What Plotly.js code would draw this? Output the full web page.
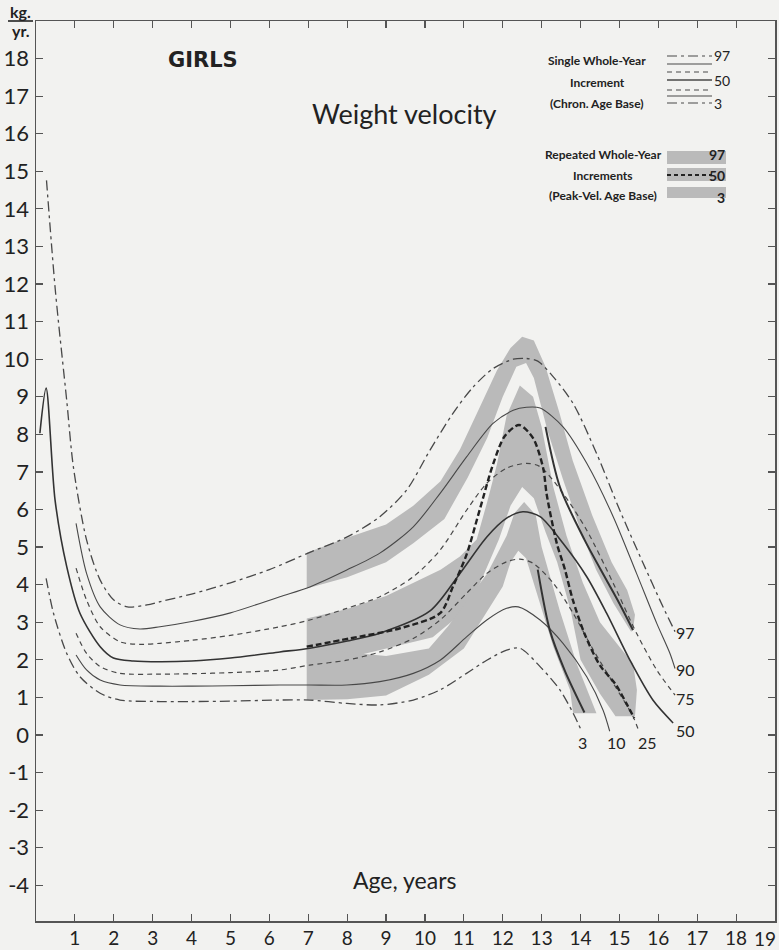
<!DOCTYPE html>
<html>
<head>
<meta charset="utf-8">
<script src="https://cdn.plot.ly/plotly-3.0.1.min.js"></script>
<style>html,body{margin:0;padding:0;background:#f2f2f0;}#chart{width:779px;height:950px;}</style>
</head>
<body>
<div id="chart"></div>
<script>
// ---- Chronological-age-base percentile curves (single whole-year increments) ----
const c97_x = [0.27,0.5,0.79,0.96,1.3,1.65,2.0,2.35,2.85,3.2,4,5,6,7.04,8.0,8.84,9.53,10.13,10.72,11.24,11.75,12.27,12.6,12.9,13.3,13.81,14.41,15.01,15.61,16.12,16.43];
const c97_y = [14.76,11.8,8.9,7.14,5.19,4.12,3.59,3.41,3.46,3.55,3.75,4.05,4.4,4.86,5.27,5.81,6.52,7.58,8.56,9.26,9.75,10.0,10.02,9.95,9.53,8.82,7.5,5.98,4.57,3.41,2.75];
const c90_x = [1.03,1.3,1.65,2.16,2.67,3.19,4,5,6.27,7.04,7.99,8.84,9.7,10.39,11.07,11.75,12.27,12.61,12.96,13.55,14.16,14.84,15.44,15.96,16.3,16.43];
const c90_y = [5.63,4.3,3.41,2.93,2.82,2.88,3.02,3.25,3.68,3.94,4.39,4.84,5.54,6.43,7.4,8.29,8.64,8.72,8.7,8.2,7.23,5.81,4.3,2.97,2.17,1.77];
const c75_x = [1.03,1.3,1.65,2.16,2.67,3.19,4,5,6.27,7.04,7.99,8.84,9.7,10.39,11.07,11.59,12.1,12.61,12.96,13.55,14.16,14.84,15.44,15.96,16.43];
const c75_y = [4.44,3.59,2.88,2.48,2.41,2.44,2.52,2.65,2.88,3.06,3.37,3.68,4.21,4.92,5.98,6.7,7.1,7.23,7.14,6.43,5.45,4.04,2.71,1.73,1.06];
const c50_x = [0.1,0.26,0.49,0.79,1.13,1.65,1.99,2.5,3.19,4,5,6.27,7.04,8.0,8.84,10.13,10.9,11.59,12.1,12.52,12.96,13.55,14.16,14.67,15.27,15.86,16.38];
const c50_y = [8.03,9.23,6.25,4.48,3.24,2.35,2.05,1.97,1.95,1.97,2.05,2.21,2.31,2.5,2.71,3.3,4.3,5.27,5.77,5.94,5.81,5.1,4.21,3.24,1.99,0.93,0.32];
const c25_x = [1.03,1.3,1.65,2.16,3.19,4,5,6.27,7.04,7.99,8.84,9.7,10.39,11.07,11.59,12.1,12.44,12.78,13.3,13.81,14.33,14.84,15.35,15.5];
const c25_y = [2.71,2.17,1.82,1.64,1.62,1.63,1.66,1.73,1.86,1.99,2.21,2.57,3.06,3.77,4.3,4.61,4.68,4.57,4.04,3.24,2.26,1.38,0.49,0.1];
const c10_x = [1.03,1.3,1.65,2.16,3.19,4,5,6.27,7.04,7.99,8.84,9.7,10.39,11.07,11.59,12.1,12.4,12.96,13.55,14.16,14.58,14.75];
const c10_y = [2.13,1.73,1.46,1.33,1.30,1.30,1.31,1.33,1.33,1.33,1.42,1.64,1.99,2.61,3.06,3.37,3.41,3.06,2.44,1.55,0.66,0.1];
const c3_x = [0.26,0.45,0.79,1.13,1.65,2.16,3.19,4,5,6.27,7.04,7.99,8.84,9.7,10.39,11.07,11.59,12.1,12.44,12.96,13.47,13.81,14.03];
const c3_y = [4.17,3.24,2.17,1.55,1.11,0.93,0.89,0.89,0.9,0.93,0.93,0.84,0.8,0.93,1.2,1.64,1.99,2.26,2.31,1.82,1.2,0.58,0.1];

// ---- Peak-velocity-age-base bands (repeated whole-year increments), outlines ----
const bandA_x = [6.96,8.0,9.0,9.7,10.4,10.9,11.4,11.85,12.2,12.5,12.8,13.1,13.45,13.8,14.3,14.8,15.2,15.4,15.35,15.3,14.85,14.4,14.0,13.55,13.15,12.8,12.6,12.35,12.0,11.6,11.1,10.5,9.7,9.0,8.0,6.96];
const bandA_y = [4.85,5.25,5.6,6.1,6.75,7.6,8.7,9.7,10.3,10.6,10.5,9.8,8.6,7.3,5.85,4.6,3.85,3.2,2.8,2.75,3.5,4.4,5.45,6.8,8.1,9.5,9.9,9.8,9.0,7.9,6.85,5.75,5.1,4.6,4.2,3.9];
const bandB_x = [6.96,8.0,9.0,9.8,10.4,10.9,11.33,11.6,11.85,12.1,12.44,12.78,13.0,13.3,13.64,14.06,14.5,15.0,15.35,15.45,15.4,14.9,14.5,14.0,13.75,13.4,13.1,12.8,12.5,12.2,11.9,11.4,10.9,10.2,9.0,8.0,6.96];
const bandB_y = [3.1,3.35,3.7,4.1,4.4,4.75,5.2,6.2,7.2,8.5,9.3,9.0,8.2,6.6,5.3,4.05,3.0,2.35,1.9,1.2,0.5,0.5,1.1,2.0,3.3,4.6,5.4,6.3,6.6,6.1,5.2,4.0,3.2,2.6,2.3,2.05,1.9];
const bandC_x = [6.96,8.0,9.0,10.1,10.6,11.0,11.6,12.1,12.3,12.55,12.85,13.0,13.47,13.9,14.41,13.81,13.73,13.3,12.9,12.6,12.4,12.2,12.0,11.67,11.0,10.1,9.0,8.0,6.96];
const bandC_y = [2.3,2.2,2.1,2.3,2.9,3.45,4.3,5.3,5.9,6.2,5.85,5.0,3.3,1.9,0.58,0.58,1.2,2.35,3.7,4.7,4.9,4.6,3.95,3.4,2.3,1.6,1.05,0.95,0.93];
// bold centre lines drawn inside the bands
const pv50_x = [6.96,8.07,9.36,10.39,10.72,11.07,11.41,11.75,12.05,12.42,12.78,13.04,13.13,13.39,13.6,13.8,14.1,14.5,14.9,15.2,15.38];
const pv50_y = [2.35,2.57,2.84,3.24,3.95,4.8,6.0,7.2,7.95,8.25,7.9,7.1,6.4,5.1,4.4,3.6,2.7,1.85,1.35,0.8,0.45];
const pv97_x = [13.1,13.47,14.1,14.67,15.0,15.35];
const pv97_y = [8.2,6.6,5.2,4.12,3.5,2.79];
const pv3_x = [12.9,13.21,13.6,14.1];
const pv3_y = [4.4,2.79,1.7,0.6];

// ---- axis ticks ----
const xTickVals = [1,2,3,4,5,6,7,8,9,10,11,12,13,14,15,16,17,18,19];
const xTickText = ['1','2','3','4','5','6','7','8','9','10','11','12','13','14','15','16','17','18',''];
const xLastLabel = '19';
const yTickVals = [-4,-3,-2,-1,0,1,2,3,4,5,6,7,8,9,10,11,12,13,14,15,16,17,18];
const yTickText = ['-4','-3','-2','-1','0','1','2','3','4','5','6','7','8','9','10','11','12','13','14','15','16','17','18'];

// ---- end labels ----
const endLabels = ['97','90','75','50','3','10','25'];
const endLabelX = [16.71,16.71,16.71,16.71,14.04,14.93,15.73];
const endLabelY = [2.74,1.73,0.98,0.11,-0.19,-0.19,-0.19];

const LINE = '#484848';
const BAND = '#bababa';
const DASHDOT = '10px,4px,3px,4px';
const DASH = '5px,4px';

function band(x, y, xa, ya){
  return {x:x, y:y, xaxis:xa||'x', yaxis:ya||'y', type:'scatter', mode:'lines', fill:'toself', fillcolor:BAND,
          line:{width:0, color:BAND}, hoverinfo:'skip', showlegend:false};
}
function curve(x, y, width, dash, color){
  return {x:x, y:y, type:'scatter', mode:'lines',
          line:{width:width, dash:dash, color:color||LINE, shape:'spline', smoothing:0.8},
          hoverinfo:'skip', showlegend:false};
}

// legend swatches drawn on an overlay axis measured in page pixels
const swatchX = [667,726,726,667,667];
const data = [
  band(bandA_x, bandA_y), band(bandB_x, bandB_y), band(bandC_x, bandC_y),
  band(swatchX, [151,151,164,164,151], 'x2', 'y2'),
  band(swatchX, [168,168,181,181,168], 'x2', 'y2'),
  band(swatchX, [187,187,198,198,187], 'x2', 'y2'),
  curve(c97_x, c97_y, 1.3, DASHDOT),
  curve(c90_x, c90_y, 1.1, 'solid'),
  curve(c75_x, c75_y, 1.2, DASH),
  curve(c50_x, c50_y, 1.6, 'solid', '#333'),
  curve(c25_x, c25_y, 1.2, DASH),
  curve(c10_x, c10_y, 1.1, 'solid'),
  curve(c3_x, c3_y, 1.3, DASHDOT),
  curve(pv50_x, pv50_y, 2.4, '6px,3px', '#222'),
  curve(pv97_x, pv97_y, 2.0, 'solid', '#333'),
  curve(pv3_x, pv3_y, 2.0, 'solid', '#333')
];

// paper-coordinate helpers (plot area: x 36..775 px, y 21..921 px)
const PX = p => (p - 36) / 739;
const PY = p => (921 - p) / 900;
const LEG = "'Liberation Sans Narrow', Lato, sans-serif";
const MAIN = "Lato, 'Open Sans', sans-serif";

const annotations = [];
function txt(text, x, y, size, opts){
  annotations.push(Object.assign({text:text, x:PX(x), y:PY(y), xref:'paper', yref:'paper',
    showarrow:false, xanchor:'center', yanchor:'middle',
    font:{family:MAIN, size:size, color:'#222'}}, opts||{}));
}
txt('<b>kg.</b>', 20, 12, 16);
txt('<b>yr.</b>', 21, 30, 16);
txt('<b>GIRLS</b>', 203, 60, 21, {font:{family:"'DejaVu Sans', sans-serif", size:21, color:'#222'}});
txt('Weight velocity', 404, 113, 27);
txt('Age, years', 404, 880, 23);
['Single Whole-Year','Increment','(Chron. Age Base)'].forEach((t,i)=>
  txt('<b>'+t+'</b>', 597, [61,82,103][i], 12, {font:{family:LEG, size:12, color:'#222'}}));
['Repeated Whole-Year','Increments','(Peak-Vel. Age Base)'].forEach((t,i)=>
  txt('<b>'+t+'</b>', 603, [155,175,196][i], 12, {font:{family:LEG, size:12, color:'#222'}}));
[['97',56],['50',80],['3',103]].forEach(a=>
  txt(a[0], 712, a[1], 14, {xanchor:'left', font:{family:MAIN, size:14, color:'#222'}}));
[['97',155],['50',175],['3',197]].forEach(a=>
  txt('<b>'+a[0]+'</b>', 727, a[1], 14, {xanchor:'right', font:{family:LEG, size:14, color:'#222'}}));
// last x tick label, kept inside the page edge
txt(xLastLabel, 778, 938, 19, {xanchor:'right'});
endLabels.forEach((t,i)=>annotations.push({text:t, x:endLabelX[i], y:endLabelY[i], xref:'x', yref:'y',
  showarrow:false, xanchor:'center', yanchor:'middle', font:{family:MAIN, size:16, color:'#222'}}));

const shapes = [];
function hline(x0, x1, y, dash, width, color){
  shapes.push({type:'line', xref:'paper', yref:'paper', x0:PX(x0), x1:PX(x1), y0:PY(y), y1:PY(y),
    line:{color:color||LINE, width:width||1.1, dash:dash||'solid'}});
}
hline(8, 33, 21, 'solid', 1.6, '#222'); // kg./yr. rule
hline(667, 712, 56, DASHDOT, 1.1);
hline(667, 712, 64, 'solid', 1.1);
hline(667, 712, 72, DASH, 1.1);
hline(667, 712, 80, 'solid', 1.5);
hline(667, 712, 90, DASH, 1.1);
hline(667, 712, 96, 'solid', 1.1);
hline(667, 712, 103, DASHDOT, 1.1);
hline(667, 712, 175, '4px,3px', 2, '#222');

const axisCommon = {showline:true, linecolor:'#555', linewidth:1.5, mirror:'ticks', ticks:'inside',
  ticklen:7, tickcolor:'#555', tickwidth:1.2, showgrid:false, zeroline:false,
  tickfont:{family:MAIN, size:22, color:'#222'}};

const layout = {
  width:779, height:950,
  margin:{l:36, r:4, t:21, b:29, pad:0},
  paper_bgcolor:'#f2f2f0', plot_bgcolor:'#f2f2f0',
  showlegend:false,
  xaxis:Object.assign({}, axisCommon, {range:[0,19], tickmode:'array', tickvals:xTickVals, ticktext:xTickText,
        ticklabelstandoff:0, tickfont:{family:MAIN, size:19, color:'#222'}}),
  yaxis:Object.assign({}, axisCommon, {range:[-4.95,19], tickmode:'array', tickvals:yTickVals,
        ticktext:yTickText, ticklabelstandoff:1}),
  xaxis2:{overlaying:'x', range:[36,775], visible:false, fixedrange:true},
  yaxis2:{overlaying:'y', range:[921,21], visible:false, fixedrange:true},
  annotations:annotations,
  shapes:shapes
};

Plotly.newPlot('chart', data, layout, {staticPlot:true, displayModeBar:false});
</script>
</body>
</html>
